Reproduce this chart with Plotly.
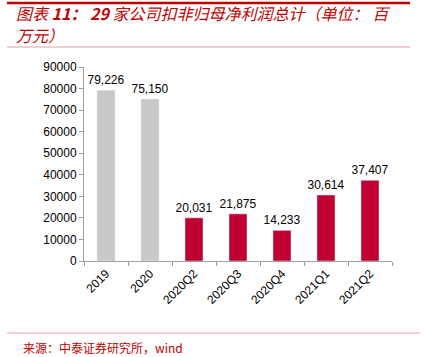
import plotly.graph_objects as go

categories = ["2019", "2020", "2020Q2", "2020Q3", "2020Q4", "2021Q1", "2021Q2"]
values = [79226, 75150, 20031, 21875, 14233, 30614, 37407]
bar_colors = ["#C8C8C8", "#C8C8C8", "#C00032", "#C00032", "#C00032", "#C00032", "#C00032"]
y_ticks = [0, 10000, 20000, 30000, 40000, 50000, 60000, 70000, 80000, 90000]
y_tick_text = [str(v) for v in y_ticks]
title_head = "图表 "
title_num = "11： 29"
title_rest = " 家公司扣非归母净利润总计（单位： 百"
title_line2 = "万元）"
source_text = "来源：中泰证券研究所，wind"

W, H = 424, 357
L, R, T, B = 84, 32, 67, 96
pw, ph = W - L - R, H - T - B

def px(x):
    return (x - L) / pw

def py(y):
    return (H - B - y) / ph

fig = go.Figure()
fig.add_trace(go.Bar(
    x=categories, y=values, marker_color=bar_colors, width=0.41,
    text=[f"{v:,}" for v in values], textposition="outside",
    textfont=dict(size=12, color="#000000", family="Liberation Sans"),
    constraintext="none", cliponaxis=False,
))

fig.update_layout(
    width=W, height=H, margin=dict(l=L, r=R, t=T, b=B),
    plot_bgcolor="white", paper_bgcolor="white", showlegend=False,
    font=dict(family="Liberation Sans", size=12, color="#000000"),
)
fig.update_yaxes(range=[0, 90000], tickvals=y_ticks, ticktext=y_tick_text, showgrid=False,
                 showline=True, linecolor="#A0A0A0", linewidth=1,
                 ticks="outside", ticklen=4, tickcolor="#A0A0A0",
                 tickfont=dict(size=12), zeroline=False)
fig.update_xaxes(showgrid=False, showline=True, linecolor="#A0A0A0", linewidth=1,
                 ticks="outside", ticklen=4, tickcolor="#A0A0A0", tickson="boundaries",
                 tickangle=-45, tickfont=dict(size=12))

shapes = [
    dict(type="line", xref="paper", yref="paper", x0=px(7), x1=px(410), y0=py(3), y1=py(3),
         line=dict(color="#C00000", width=2.5)),
    dict(type="line", xref="paper", yref="paper", x0=px(7), x1=px(410), y0=py(47), y1=py(47),
         line=dict(color="#E8A0A8", width=1)),
    dict(type="line", xref="paper", yref="paper", x0=px(7), x1=px(420), y0=py(333), y1=py(333),
         line=dict(color="#E8A0A8", width=1)),
]
fig.update_layout(shapes=shapes)

title_font = dict(family="Noto Sans CJK SC", size=16, color="#C00000")
fig.add_annotation(xref="paper", yref="paper", x=px(15), y=py(13), xanchor="left", yanchor="middle",
                   text=f"<i>{title_head}<b>{title_num}</b>{title_rest}</i>", borderpad=0,
                   showarrow=False, font=title_font)
fig.add_annotation(xref="paper", yref="paper", x=px(15), y=py(35), xanchor="left", yanchor="middle",
                   text=f"<i>{title_line2}</i>", showarrow=False, font=title_font, borderpad=0)
fig.add_annotation(xref="paper", yref="paper", x=px(21), y=py(347), xanchor="left", yanchor="middle",
                   text=source_text, showarrow=False,
                   font=dict(family="Noto Sans CJK SC", size=12, color="#C00000"))

fig.write_html("out.html", config={"displayModeBar": False},
               post_script="document.body.style.margin='0';")
